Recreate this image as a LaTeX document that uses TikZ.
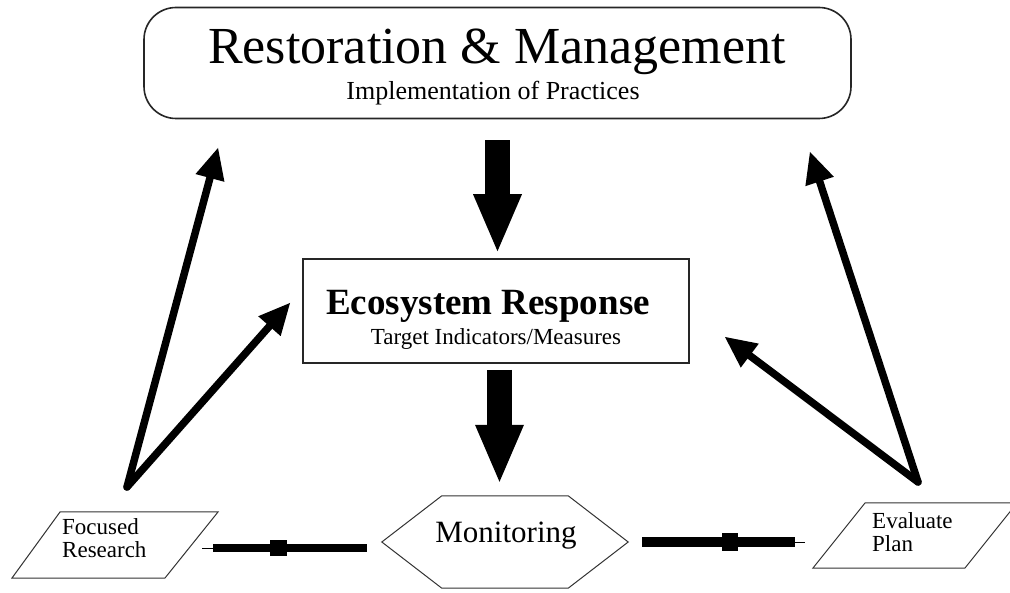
\documentclass[tikz,border=0pt]{standalone}
\usepackage{fontspec}
\setmainfont{Liberation Serif}
\usetikzlibrary{arrows.meta,calc}

\begin{document}
\begin{tikzpicture}[x=1pt,y=-1pt,
  outline/.style={draw=black!85, line width=1.6pt},
  thinoutline/.style={draw=black!80, line width=1pt},
  blockarrow/.style={line width=25pt,
    -{Triangle[length=57pt,width=49pt,line width=0pt]}},
  feedback/.style={line width=7.5pt, line cap=round,
    -{Triangle[length=31pt,width=30pt,line width=0pt]}},
  sidearrowL/.style={line width=8pt,
    -{Rectangle[length=17pt,width=16pt,sep=0pt,line width=0pt]
      Rectangle[length=57pt,width=5pt,sep=0pt,line width=0pt]
      Rectangle[length=11pt,width=1pt,sep=0pt,line width=0pt]}},
  sidearrowR/.style={line width=10pt,
    -{Rectangle[length=40pt,width=7pt,sep=0pt,line width=0pt]
      Rectangle[length=16pt,width=18pt,sep=0pt,line width=0pt]
      Rectangle[length=35pt,width=7pt,sep=0pt,line width=0pt]
      Rectangle[length=22pt,width=4pt,sep=0pt,line width=0pt]
      Rectangle[length=10pt,width=1pt,sep=0pt,line width=0pt]}},
  bigtitle/.style={font=\fontsize{52}{52}\selectfont, anchor=base, inner sep=0pt},
  subtitle/.style={font=\fontsize{26}{26}\selectfont, anchor=base, inner sep=0pt},
  ecotitle/.style={font=\bfseries\fontsize{37}{37}\selectfont, anchor=base, inner sep=0pt},
  ecosub/.style={font=\fontsize{23}{23}\selectfont, anchor=base, inner sep=0pt},
  montext/.style={font=\fontsize{31}{31}\selectfont, anchor=base, inner sep=0pt},
  sidetext/.style={font=\fontsize{23}{23}\selectfont, anchor=base west, align=left, inner sep=0pt}
]
\useasboundingbox (0,0) rectangle (1010,593);
\clip (0,0) rectangle (1010,593);
\fill[white] (0,0) rectangle (1010,593);

% Restoration & Management
\node[outline, rounded corners=32pt, minimum width=707pt, minimum height=111pt, inner sep=0pt] (rm) at (497.5,63) {};
\node[bigtitle] (rmtitle) at (497,64) {Restoration \& Management};
\node[subtitle] (rmsub) at (493,100) {Implementation of Practices};

% Ecosystem Response
\node[outline, minimum width=386pt, minimum height=104pt, inner sep=0pt] (eco) at (496,311) {};
\node[ecotitle] (ecotitle) at (488,315) {Ecosystem Response};
\node[ecosub] (ecosub) at (496,345) {Target Indicators/Measures};

% Monitoring (hexagon)
\node[minimum width=246pt, minimum height=92pt, inner sep=0pt] (mon) at (505,542) {};
\draw[thinoutline] (mon.west) -- ($(mon.north west)+(60,0)$) -- ($(mon.north east)+(-60,0)$)
  -- (mon.east) -- ($(mon.south east)+(-60,0)$) -- ($(mon.south west)+(60,0)$) -- cycle;
\node[montext] (montext) at (506,543) {Monitoring};

% Focused Research (parallelogram); base anchor sits on the last line
\draw[thinoutline] (60,512) -- (218,512) -- (165,578) -- (12,578) -- cycle;
\node[sidetext] (fr) at (62,557) {Focused\\Research};

% Evaluate Plan (parallelogram)
\draw[thinoutline] (865,503) -- (1017,503) -- (965,568) -- (813,568) -- cycle;
\node[sidetext] (ep) at (872,551) {Evaluate\\Plan};

% connector end points
\coordinate (frtop) at (127,487);
\coordinate (eptop) at (918,482);
\coordinate (frport) at (202,548);
\coordinate (epport) at (805,542);
\coordinate (rmleft) at (218,148);
\coordinate (rmright) at (810,152);
\coordinate (ecoleft) at (290,303);
\coordinate (ecoright) at (725,337);

% main flow
\draw[blockarrow, shorten <=21pt, shorten >=7pt] (rm.south) -- (rm.south |- eco.north);
\draw[blockarrow, shorten <=6pt, shorten >=14pt] ([xshift=3.5pt]eco.south) -- ([xshift=3.5pt]eco.south |- mon.north);

% monitoring outputs
\draw[sidearrowL] ([shift={(-15,6)}]mon.west) -- (frport);
\draw[sidearrowR] ([shift={(14,0)}]mon.east) -- (epport);

% feedback arrows
\draw[feedback] (frtop) -- (rmleft);
\draw[feedback] (frtop) -- (ecoleft);
\draw[feedback] (eptop) -- (rmright);
\draw[feedback] (eptop) -- (ecoright);
\end{tikzpicture}
\end{document}
